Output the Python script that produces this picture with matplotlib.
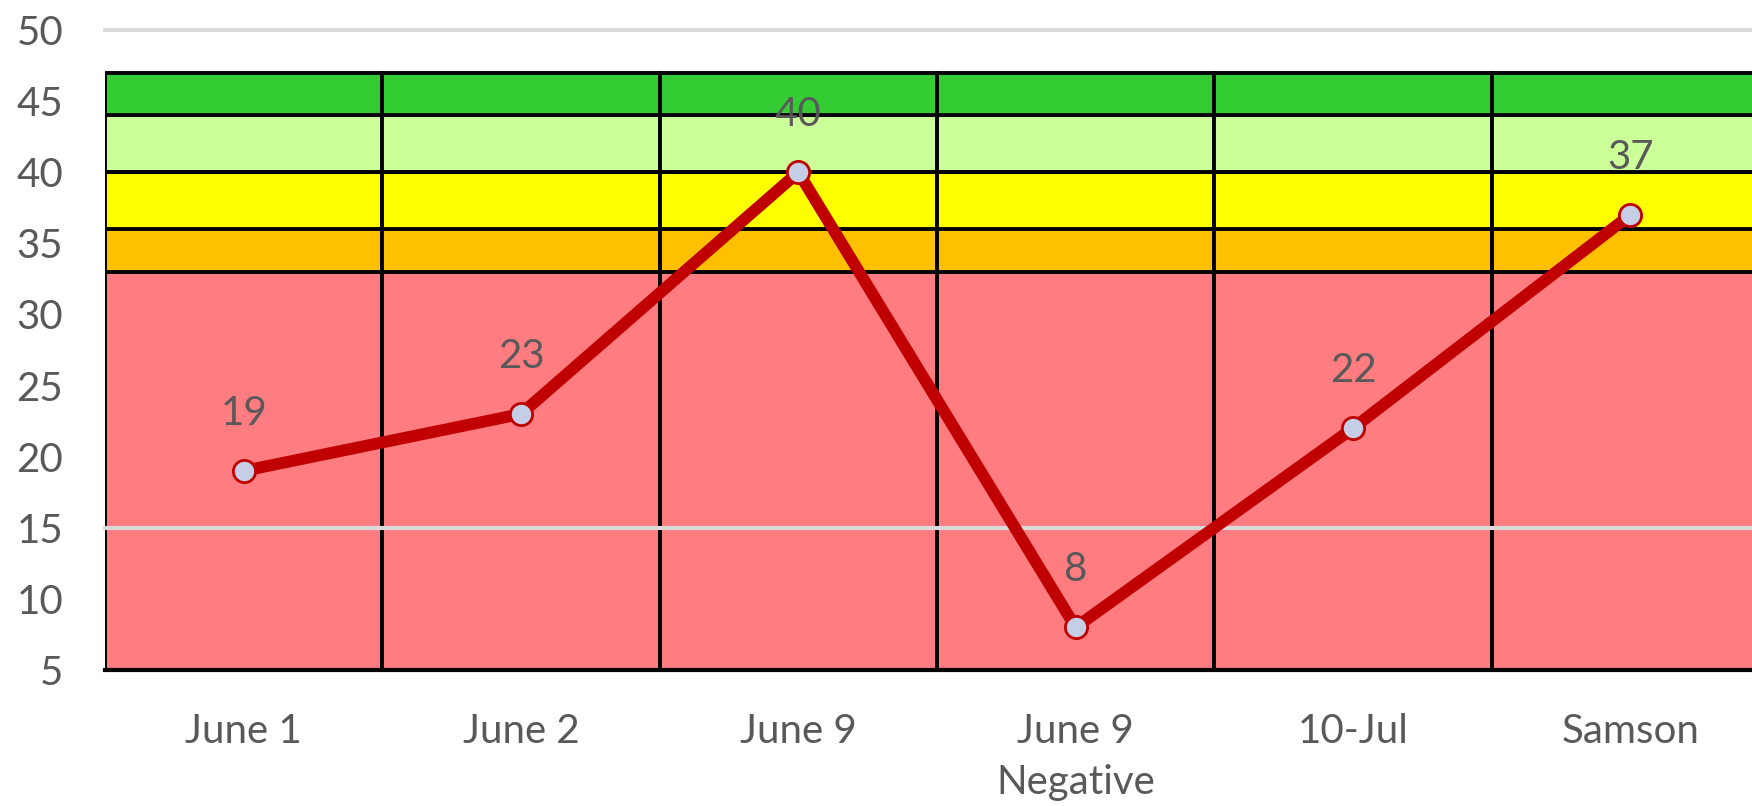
import matplotlib.pyplot as plt
import numpy as np

# categories and line values
categories = ['June 1', 'June 2', 'June 9', 'June 9\nNegative', '10-Jul', 'Samson']
scores = [19, 23, 40, 8, 22, 37]

# stacked background bands (bottom to top)
band_heights = [33, 3, 4, 4, 3]
band_colors = ['#FF7C80', '#FFC000', '#FFFF00', '#CCFF99', '#33CC33']

plt.rcParams['font.family'] = ['Lato', 'DejaVu Sans']

fig = plt.figure(figsize=(17.52, 8.06), dpi=100)
ax = fig.add_axes([105 / 1752, 136 / 806, 1664 / 1752, 640 / 806])

x = np.arange(len(categories))
bottom = np.zeros(len(categories))
for h, c in zip(band_heights, band_colors):
    ax.bar(x, [h] * len(categories), width=1.0, bottom=bottom, color=c,
           edgecolor='black', linewidth=2.8, zorder=2)
    bottom += h

# gridlines that show
ax.axhline(50, color='#D9D9D9', linewidth=2.8, zorder=1, clip_on=False)
ax.axhline(15, color='#D9D9D9', linewidth=3, zorder=3, clip_on=False)

ax.plot(x, scores, color='#C00000', linewidth=8.5, marker='o', markersize=16,
        markerfacecolor='#C5CEE6', markeredgecolor='#C00000', markeredgewidth=2,
        zorder=5, solid_capstyle='round')

for xi, v in zip(x, scores):
    ax.annotate(str(v), (xi, v), xytext=(0, 28), textcoords='offset points',
                ha='center', va='bottom', fontsize=29, color='#595959', zorder=6)

ax.set_xlim(-0.5, 5.5)
ax.set_ylim(5, 50)
ax.set_yticks(range(5, 51, 5))
ax.set_xticks(x)
ax.set_xticklabels(categories, linespacing=1.45)
ax.tick_params(axis='both', length=0, labelsize=29, labelcolor='#595959')
ax.tick_params(axis='y', pad=30)
ax.tick_params(axis='x', pad=31)

for s in ['top', 'right', 'left']:
    ax.spines[s].set_visible(False)
ax.spines['bottom'].set_color('black')
ax.spines['bottom'].set_linewidth(3)
ax.spines['bottom'].set_zorder(4)

fig.savefig('out.png', dpi=100)
